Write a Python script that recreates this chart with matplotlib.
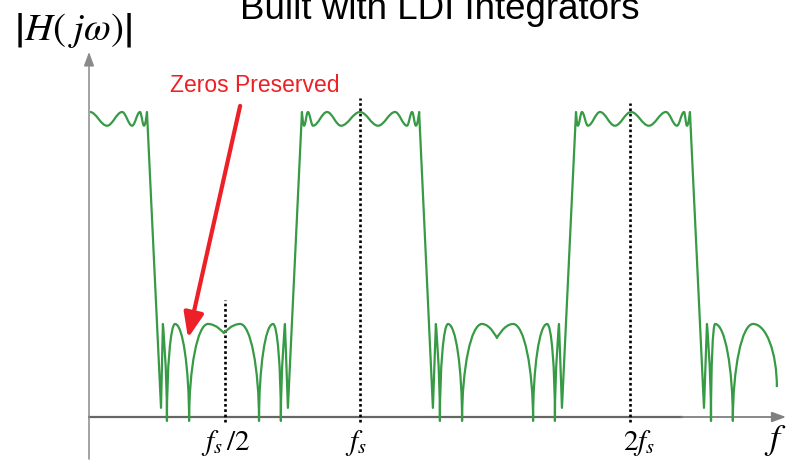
import matplotlib
matplotlib.use("Agg")
import matplotlib.pyplot as plt
from matplotlib.path import Path
from matplotlib.patches import PathPatch

# frequency axis in units of f_s, magnitude normalised to the passband level
# each point: (f / f_s, |H|, kind)  kind: p = rounded extremum, v = null cusp, c = corner
pass1 = [(0.000, 1.0, 'p'), (0.063, 0.955, 'p'), (0.119, 1.0, 'p'), (0.156, 0.955, 'p'),
         (0.185, 1.0, 'p'), (0.200, 0.955, 'p'), (0.211, 1.0, 'c')]
stop1 = [(0.263, 0.030, 'c'), (0.270, 0.305, 'c'), (0.285, -0.013, 'v'), (0.315, 0.305, 'p'),
         (0.367, -0.013, 'v'), (0.437, 0.305, 'p'), (0.496, 0.275, 'c'), (0.556, 0.305, 'p'),
         (0.626, -0.013, 'v'), (0.678, 0.305, 'p'), (0.707, -0.013, 'v'), (0.722, 0.305, 'c'),
         (0.733, 0.030, 'c')]
pass2 = [(0.785, 1.0, 'c'), (0.793, 0.955, 'p'), (0.807, 1.0, 'p'), (0.826, 0.955, 'p'),
         (0.878, 1.0, 'p'), (0.930, 0.955, 'p'), (1.000, 1.0, 'p'), (1.067, 0.955, 'p'),
         (1.130, 1.0, 'p'), (1.174, 0.955, 'p'), (1.193, 1.0, 'p'), (1.207, 0.955, 'p'),
         (1.219, 1.0, 'c')]
stop2 = [(1.270, 0.030, 'c'), (1.281, 0.305, 'c'), (1.296, -0.013, 'v'), (1.326, 0.305, 'p'),
         (1.378, -0.013, 'v'), (1.452, 0.305, 'p'), (1.507, 0.259, 'c'), (1.567, 0.305, 'p'),
         (1.641, -0.013, 'v'), (1.693, 0.305, 'p'), (1.722, -0.013, 'v'), (1.737, 0.305, 'c'),
         (1.748, 0.030, 'c')]
pass3 = [(1.800, 1.0, 'c'), (1.807, 0.955, 'p'), (1.822, 1.0, 'p'), (1.844, 0.955, 'p'),
         (1.889, 1.0, 'p'), (1.944, 0.955, 'p'), (2.004, 1.0, 'p'), (2.070, 0.955, 'p'),
         (2.133, 1.0, 'p'), (2.174, 0.955, 'p'), (2.200, 1.0, 'p'), (2.211, 0.955, 'p'),
         (2.222, 1.0, 'c')]
stop3 = [(2.274, 0.030, 'c'), (2.285, 0.305, 'c'), (2.300, -0.013, 'v'), (2.315, 0.305, 'p'),
         (2.381, -0.013, 'v'), (2.456, 0.305, 'p'), (2.544, 0.098, 'v')]

marker_f = [0.5, 1.0, 2.0]
marker_top = [0.384, 1.046, 1.030]
marker_labels = [r'$f_s\,/2$', r'$f_s$', r'$2f_s$']
marker_label_f = [0.502, 0.985, 2.035]

GREEN = '#379a45'
RED = '#ee2027'

plt.rcParams['mathtext.fontset'] = 'stix'


def response_path(points):
    """Bezier path through the extrema of the sketched response."""
    verts = [points[0][:2]]
    codes = [Path.MOVETO]
    for (x0, y0, k0), (x1, y1, k1) in zip(points[:-1], points[1:]):
        dx, dy = x1 - x0, y1 - y0
        a = 0.364 if (k0 == 'p' and k1 == 'p') else 0.55
        if k0 == 'p':
            c0 = (x0 + a * dx, y0)
        elif k0 == 'v':
            c0 = (x0, y0 + 0.55 * dy)
        else:
            c0 = (x0, y0)
        if k1 == 'p':
            c1 = (x1 - a * dx, y1)
        elif k1 == 'v':
            c1 = (x1, y1 - 0.55 * dy)
        else:
            c1 = (x1, y1)
        verts += [c0, c1, (x1, y1)]
        codes += [Path.CURVE4] * 3
    return Path(verts, codes)


fig = plt.figure(figsize=(7.89, 4.65), dpi=100)
ax = fig.add_axes([0, 0, 1, 1])
ax.set_xlim(-90 / 270, 699 / 270)
ax.set_ylim(-48 / 305, 417 / 305)
ax.axis('off')

# axes with arrow heads
ax.plot([-0.007, 2.196], [0, 0], color='#666666', lw=1.6, solid_capstyle='butt', zorder=1)
ax.annotate('', xy=(2.578, 0), xytext=(2.190, 0),
            arrowprops=dict(arrowstyle='-|>,head_length=0.6,head_width=0.22', color='#808080',
                            lw=1.3, shrinkA=0, shrinkB=0, mutation_scale=14), zorder=1)
ax.annotate('', xy=(-0.0037, 1.197), xytext=(-0.0037, -0.138),
            arrowprops=dict(arrowstyle='-|>,head_length=0.6,head_width=0.22', color='#8a8a8a',
                            lw=1.1, shrinkA=0, shrinkB=0, mutation_scale=14), zorder=1)

# dotted markers at fs/2, fs, 2fs
for f, top, lab, lf in zip(marker_f, marker_top, marker_labels, marker_label_f):
    ax.plot([f, f], [-0.016, top], color='black', lw=1.9, linestyle=(0, (1, 1)),
            dash_capstyle='butt', zorder=2)
    ax.text(lf, -0.085, lab, fontsize=21, ha='center', va='center')
ax.text(2.54, -0.078, r'$f$', fontsize=26, ha='center', va='center')

# the response
pts = pass1 + stop1 + pass2 + stop2 + pass3 + stop3
ax.add_patch(PathPatch(response_path(pts), fill=False, edgecolor=GREEN, lw=1.6,
                       joinstyle='round', zorder=3))

# annotation
ax.annotate('', xy=(0.363, 0.259), xytext=(0.556, 1.020),
            arrowprops=dict(arrowstyle='-|>,head_length=0.75,head_width=0.3', color=RED,
                            lw=3, shrinkA=0, shrinkB=0, mutation_scale=20), zorder=4)
fig.text(254.5 / 789, 1 - 92 / 465, 'Zeros Preserved', color=RED, fontsize=16.5,
         family='Liberation Sans', ha='center', va='baseline')

fig.text(439.5 / 789, 1 - 19 / 465, 'Built with LDI Integrators', fontsize=26.5,
         family='Liberation Sans', ha='center', va='baseline')
fig.text(73 / 789, 1 - 31 / 465, r'$\left|H\left(\;j\omega\right)\right|$', fontsize=28,
         ha='center', va='center')

fig.savefig('out.png', dpi=100)
